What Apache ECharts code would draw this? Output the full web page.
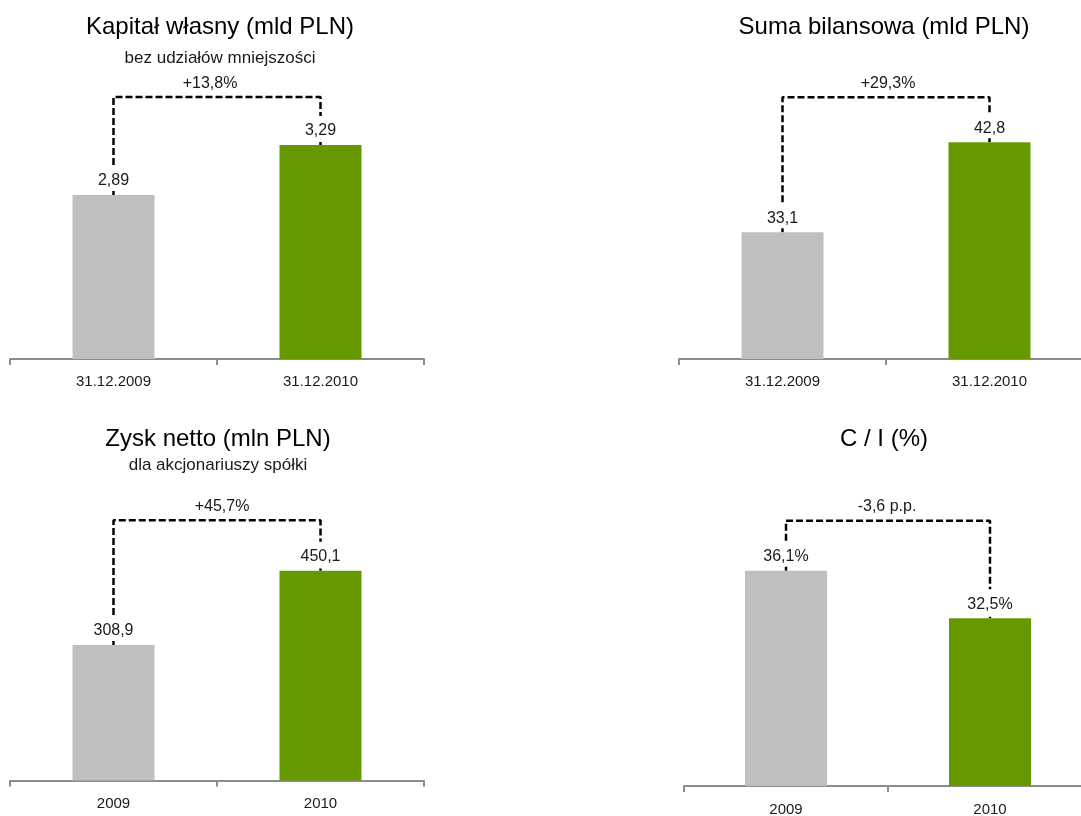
<!DOCTYPE html>
<html><head><meta charset="utf-8">
<script src="https://cdn.jsdelivr.net/npm/echarts@6/dist/echarts.min.js"></script>
<style>html,body{margin:0;padding:0;background:#fff}#c{width:1081px;height:816px}</style>
</head><body><div id="c"></div><script>
// ---- data ----
const kapitalCategories = ['31.12.2009', '31.12.2010'];
const kapitalValues = [2.89, 3.29];
const kapitalChange = '+13,8%';

const sumaCategories = ['31.12.2009', '31.12.2010'];
const sumaValues = [33.1, 42.8];
const sumaChange = '+29,3%';

const zyskCategories = ['2009', '2010'];
const zyskValues = [308.9, 450.1];
const zyskChange = '+45,7%';

const ciCategories = ['2009', '2010'];
const ciValues = [36.1, 32.5];
const ciChange = '-3,6 p.p.';

// ---- layout / style ----
const FONT = '"Liberation Sans", Arial, sans-serif';
const GRAY = '#bfbfbf', GREEN = '#669900', TXT = '#1a1a1a';

const panels = [
  { title: 'Kapitał własny (mld PLN)', sub: 'bez udziałów mniejszości', cats: kapitalCategories, vals: kapitalValues, change: kapitalChange,
    grid: { left: 10, top: 60, width: 414, bottom: 457 }, min: 1.578, max: 3.97, bracket: 3.674, dec: 2, suffix: '',
    cx: 220, titleTop: 15, subTop: 50, changeTop: 76, changeX: 210, labelMargin: 15 },
  { title: 'Suma bilansowa (mld PLN)', sub: null, cats: sumaCategories, vals: sumaValues, change: sumaChange,
    grid: { left: 679, top: 60, width: 414, bottom: 457 }, min: 19.44, max: 51.67, bracket: 47.65, dec: 1, suffix: '',
    cx: 884, titleTop: 15, subTop: 0, changeTop: 76, changeX: 888, labelMargin: 15 },
  { title: 'Zysk netto (mln PLN)', sub: 'dla akcjonariuszy spółki', cats: zyskCategories, vals: zyskValues, change: zyskChange,
    grid: { left: 10, top: 480, width: 414, bottom: 35.5 }, min: 51.4, max: 622.5, bracket: 545.9, dec: 1, suffix: '',
    cx: 218, titleTop: 427, subTop: 457, changeTop: 499, changeX: 222, labelMargin: 16 },
  { title: 'C / I (%)', sub: null, cats: ciCategories, vals: ciValues, change: ciChange,
    grid: { left: 684, top: 480, width: 408, bottom: 30 }, min: 19.81, max: 42.96, bracket: 39.88, dec: 1, suffix: '%',
    cx: 884, titleTop: 427, subTop: 0, changeTop: 499, changeX: 887, labelMargin: 16 }
];

const option = { animation: false, backgroundColor: '#fff', title: [], grid: [], xAxis: [], yAxis: [], series: [] };

panels.forEach((p, i) => {
  option.title.push({ text: p.title, left: p.cx, top: p.titleTop, textAlign: 'center', padding: 0,
    textStyle: { fontFamily: FONT, fontSize: 24, fontWeight: 'normal', color: '#000' } });
  if (p.sub) option.title.push({ text: p.sub, left: p.cx, top: p.subTop, textAlign: 'center', padding: 0,
    textStyle: { fontFamily: FONT, fontSize: 17, fontWeight: 'normal', color: TXT } });
  option.title.push({ text: p.change, left: p.changeX, top: p.changeTop, textAlign: 'center', padding: 0,
    textStyle: { fontFamily: FONT, fontSize: 16, fontWeight: 'normal', color: TXT } });

  option.grid.push(Object.assign({ containLabel: false, outerBoundsMode: 'none' }, p.grid));
  option.xAxis.push({ type: 'category', gridIndex: i, data: p.cats, boundaryGap: true,
    axisLine: { lineStyle: { color: '#8c8c8c', width: 2 } },
    axisTick: { show: true, length: 6, lineStyle: { color: '#8c8c8c', width: 2 } },
    axisLabel: { margin: p.labelMargin, fontFamily: FONT, fontSize: 15, color: TXT },
    splitLine: { show: false } });
  option.yAxis.push({ type: 'value', gridIndex: i, min: p.min, max: p.max, show: false, splitLine: { show: false } });

  option.series.push({ type: 'line', xAxisIndex: i, yAxisIndex: i, z: 2, symbol: 'none', silent: true,
    lineStyle: { color: '#000', width: 2.5, type: [7, 3] },
    data: [[0, p.vals[0]], [0, p.bracket], [1, p.bracket], [1, p.vals[1]]] });

  option.series.push({ type: 'bar', xAxisIndex: i, yAxisIndex: i, z: 3, barWidth: 82,
    data: p.vals.map((v, j) => ({ value: v, itemStyle: { color: j === 0 ? GRAY : GREEN } })),
    label: { show: true, position: 'top', distance: 4, padding: [7, 4, 2, 4], backgroundColor: '#fff',
      fontFamily: FONT, fontSize: 16, color: TXT,
      formatter: (prm) => prm.value.toFixed(p.dec).replace('.', ',') + p.suffix } });
});

const chart = echarts.init(document.getElementById('c'));
chart.setOption(option);
</script></body></html>
